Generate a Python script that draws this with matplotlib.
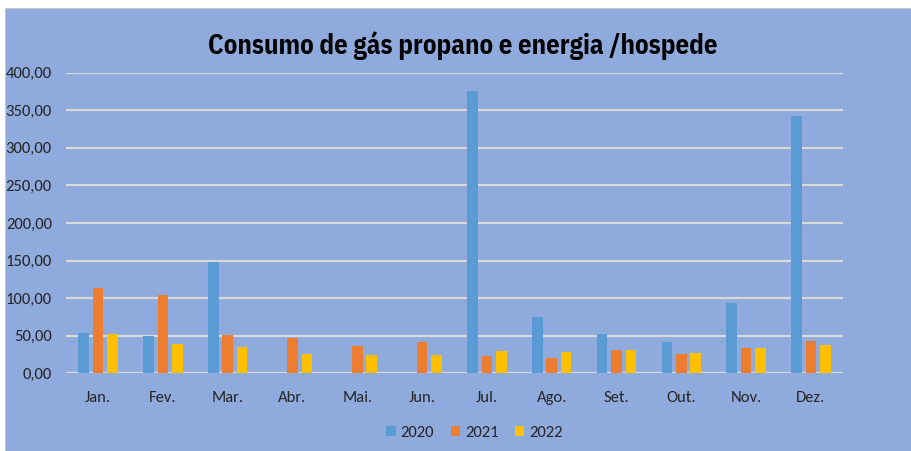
import numpy as np
import matplotlib.pyplot as plt
from matplotlib.patches import Rectangle

meses = ["Jan.", "Fev.", "Mar.", "Abr.", "Mai.", "Jun.", "Jul.", "Ago.", "Set.", "Out.", "Nov.", "Dez."]
v2020 = [53, 50, 148, 0, 0, 0, 375, 75, 52, 42, 93, 342]
v2021 = [113, 104, 51, 47, 36, 42, 23, 20, 31, 26, 33, 43]
v2022 = [52, 39, 35, 26, 24, 24, 30, 28, 31, 27, 33, 38]
anos = ["2020", "2021", "2022"]
cores = ["#5B9BD5", "#ED7D31", "#FFC000"]

bg = "#8FAADC"
fonte = ["Carlito", "IBM Plex Sans Condensed", "DejaVu Sans"]
fonte_titulo = ["IBM Plex Sans Condensed", "Carlito", "DejaVu Sans"]

fig = plt.figure(figsize=(9.11, 4.51), dpi=100)
fig.patch.set_facecolor("white")
fig.add_artist(Rectangle((5 / 911, 0), 1, (451 - 8) / 451, transform=fig.transFigure,
                         facecolor=bg, edgecolor="#C8C8C8", linewidth=0.8, zorder=0))

ax = fig.add_axes([0.0721, 0.1723, 0.8536, 0.6665])
ax.set_facecolor("none")

x = np.arange(len(meses))
w = 0.162
passo = 0.222
for i, (vals, cor, ano) in enumerate(zip([v2020, v2021, v2022], cores, anos)):
    ax.bar(x + (i - 1) * passo, vals, width=w, color=cor, label=ano, zorder=3)

ax.set_xlim(-0.5, len(meses) - 0.5)
ax.set_ylim(0, 400)
ax.set_yticks(np.arange(0, 401, 50))
ax.set_yticklabels([f"{v:.2f}".replace(".", ",") for v in range(0, 401, 50)],
                   fontsize=12, color="#262626", family=fonte)
ax.set_xticks(x)
ax.set_xticklabels(meses, fontsize=12, color="#262626", family=fonte)
ax.tick_params(axis="x", length=0, pad=13)
ax.tick_params(axis="y", length=0, pad=10)
ax.grid(axis="y", color="#D9D9D9", linewidth=1.6, zorder=1)
ax.set_axisbelow(True)
for s in ax.spines.values():
    s.set_visible(False)

fig.text(0.5077, 0.898, "Consumo de gás propano e energia /hospede", ha="center", va="center",
         fontsize=19.3, fontweight="bold", color="black", family=fonte_titulo)

leg = ax.legend(loc="upper center", bbox_to_anchor=(0.526, -0.125), ncol=3, frameon=False,
                handlelength=0.55, handleheight=0.55, handletextpad=0.3, columnspacing=1.0,
                prop={"family": fonte, "size": 12})
for t in leg.get_texts():
    t.set_color("#262626")

fig.savefig("out.png", dpi=100)
